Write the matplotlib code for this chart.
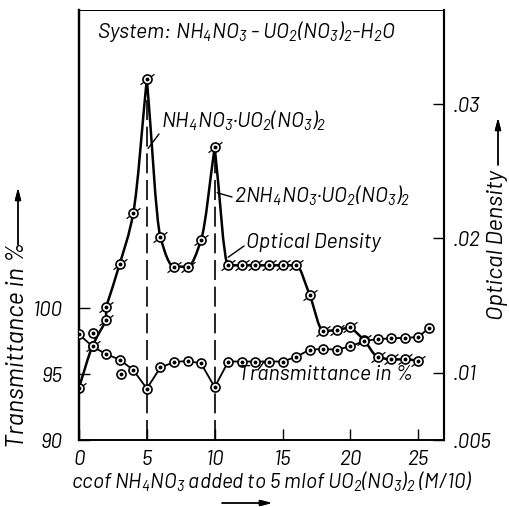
import numpy as np
import matplotlib
matplotlib.use("Agg")
import matplotlib.pyplot as plt
from matplotlib.path import Path
from matplotlib.patches import PathPatch
from matplotlib import font_manager

# ---------------------------------------------------------------------------
# data
# ---------------------------------------------------------------------------
# optical density (right axis); two readings at 2 cc
od_x = [0, 1, 2, 2, 3, 4, 5, 6, 7, 8, 9, 10, 11, 12, 13, 14, 15, 16,
        17, 18, 19, 20, 21, 22, 23, 24, 25]
od_y = [0.0089, 0.0120, 0.0139, 0.0149, 0.0181, 0.0219, 0.0319, 0.0201,
        0.0179, 0.0179, 0.0199, 0.0268, 0.0180, 0.0180, 0.0180, 0.0180,
        0.0180, 0.0180, 0.0158, 0.0131, 0.0132, 0.0134, 0.01245, 0.0112,
        0.0110, 0.0110, 0.0109]

# transmittance in % (left axis)
tr_x = [0, 1, 2, 3, 4, 5, 6, 7, 8, 9, 10, 11, 12, 13, 14, 15, 16, 17,
        18, 19, 20, 21, 22, 23, 24, 25, 25.8]
tr_y = [98.0, 97.1, 96.5, 96.1, 95.3, 93.9, 95.5, 95.9, 96.0, 95.8, 94.0,
        95.95, 95.95, 95.95, 95.95, 95.95, 96.3, 96.85, 96.9, 96.85, 97.1,
        97.5, 97.65, 97.7, 97.75, 97.8, 98.5]

# stray readings not joined by the line
stray_x = [1, 3.1]
stray_y = [98.1, 95.0]

# compounds marked by dashed lines
compound_x = [5, 10]

x_ticks = [0, 5, 10, 15, 20, 25]
tr_ticks = [90, 95, 100]
od_ticks = [0.005, 0.01, 0.02, 0.03]
od_tick_labels = ['.005', '.01', '.02', '.03']

# ---------------------------------------------------------------------------
# fonts: narrow italic lettering
# ---------------------------------------------------------------------------
installed = {f.name for f in font_manager.fontManager.ttflist}
FONT = 'DejaVu Sans'
for name in ('Barlow', 'Barlow Semi Condensed', 'Roboto Condensed'):
    if name in installed:
        FONT = name
        break
plt.rcParams['font.family'] = [FONT, 'DejaVu Sans']
plt.rcParams['font.style'] = 'italic'
plt.rcParams['mathtext.fontset'] = 'custom'
plt.rcParams['mathtext.rm'] = FONT + ':italic'
plt.rcParams['mathtext.it'] = FONT + ':italic'
plt.rcParams['mathtext.bf'] = FONT + ':italic'

W, H = 509, 507
FS = 15.3      # labels inside the plot
TICK_FS = 15


def fx(px):
    return px / W


def fy(py):
    return 1 - py / H


def pchip_tangents(x, y):
    # monotone tangents, but a sharp point at local maxima
    n = len(x)
    h = np.diff(x)
    d = np.diff(y) / h
    left = np.zeros(n)
    right = np.zeros(n)
    left[0] = right[0] = d[0]
    left[-1] = right[-1] = d[-1]
    for k in range(1, n - 1):
        if y[k] > y[k - 1] and y[k] > y[k + 1]:
            left[k], right[k] = d[k - 1], d[k]
        elif d[k - 1] * d[k] > 0:
            w1 = 2 * h[k] + h[k - 1]
            w2 = h[k] + 2 * h[k - 1]
            left[k] = right[k] = (w1 + w2) / (w1 / d[k - 1] + w2 / d[k])
    return left, right


def curve_path(xs, ys):
    xs = np.asarray(xs, float)
    ys = np.asarray(ys, float)
    # split where two readings share one x
    cuts = [0] + [i + 1 for i in range(len(xs) - 1) if xs[i + 1] == xs[i]] + [len(xs)]
    verts, codes = [], []
    for a, b in zip(cuts[:-1], cuts[1:]):
        x, y = xs[a:b], ys[a:b]
        verts.append((x[0], y[0]))
        codes.append(Path.MOVETO if a == 0 else Path.LINETO)
        if len(x) < 2:
            continue
        ml, mr = pchip_tangents(x, y)
        for i in range(len(x) - 1):
            dx = x[i + 1] - x[i]
            verts += [(x[i] + dx / 3, y[i] + mr[i] * dx / 3),
                      (x[i + 1] - dx / 3, y[i + 1] - ml[i + 1] * dx / 3),
                      (x[i + 1], y[i + 1])]
            codes += [Path.CURVE4] * 3
    return Path(verts, codes)


fig = plt.figure(figsize=(W / 100, H / 100), dpi=100)
ax1 = fig.add_axes([fx(79), fy(440), fx(444) - fx(79), fy(10) - fy(440)])
ax2 = ax1.twinx()

ax1.set_xlim(0, 26.9)
ax1.set_ylim(90, 122.6)
ax2.set_ylim(0.005, 0.037)

# --- dashed lines at the two compounds ---
for cx in compound_x:
    top = max(v for xv, v in zip(od_x, od_y) if xv == cx)
    ax2.plot([cx, cx], [0.005, top], color='black', lw=1.2,
             linestyle=(0, (12, 4)), zorder=1)

# --- optical density curve ---
ax2.add_patch(PathPatch(curve_path(od_x, od_y), facecolor='none',
                        edgecolor='black', lw=1.8, zorder=2))
slash = Path([(-1, -0.75), (1, 0.75)], [Path.MOVETO, Path.LINETO])
ax2.plot(od_x, od_y, linestyle='none', marker=slash, markersize=10,
         markeredgecolor='black', markeredgewidth=0.9, zorder=3)
ax2.plot(od_x, od_y, linestyle='none', marker='o', markersize=6.5,
         markerfacecolor='white', markeredgecolor='black',
         markeredgewidth=1.2, zorder=4)
ax2.plot(od_x, od_y, linestyle='none', marker='o', markersize=1.8,
         color='black', zorder=5)

# --- transmittance ---
ax1.plot(tr_x, tr_y, color='black', lw=1.3, zorder=2)
for xs, ys in ((tr_x, tr_y), (stray_x, stray_y)):
    ax1.plot(xs, ys, linestyle='none', marker='o', markersize=6.5,
             markerfacecolor='white', markeredgecolor='black',
             markeredgewidth=1.2, zorder=4)
    ax1.plot(xs, ys, linestyle='none', marker='o', markersize=1.8,
             color='black', zorder=5)
ax1.set_zorder(ax2.get_zorder() + 1)
ax1.patch.set_visible(False)

# --- axes ---
ax1.set_xticks(x_ticks)
ax1.set_xticklabels([str(v) for v in x_ticks])
ax1.set_yticks(tr_ticks)
ax1.set_yticklabels([str(v) for v in tr_ticks])
ax2.set_yticks(od_ticks)
ax2.set_yticklabels(od_tick_labels)
ax1.tick_params(axis='x', direction='in', length=8, width=1, labelsize=TICK_FS, pad=7)
ax1.tick_params(axis='y', direction='in', length=8, width=1, labelsize=TICK_FS, pad=12)
ax2.tick_params(axis='y', direction='in', length=8, width=1, labelsize=TICK_FS, pad=6)
for ax in (ax1, ax2):
    ax.spines['left'].set_linewidth(1.6)
    ax.spines['right'].set_linewidth(1.5)
    ax.spines['bottom'].set_linewidth(1.2)
    ax.spines['top'].set_linewidth(0.7)

# --- texts ---
fig.text(fx(97), fy(38), 'System: NH$_4$NO$_3$ - UO$_2$(NO$_3$)$_2$-H$_2$O',
         fontsize=FS, va='baseline')
fig.text(fx(161), fy(128), 'NH$_4$NO$_3$·UO$_2$(NO$_3$)$_2$', fontsize=FS, va='baseline')
fig.text(fx(234), fy(203), '2NH$_4$NO$_3$·UO$_2$(NO$_3$)$_2$', fontsize=FS, va='baseline')
fig.text(fx(246), fy(248), 'Optical Density', fontsize=FS, va='baseline')
fig.text(fx(238), fy(380), 'Transmittance in %', fontsize=FS, va='baseline')

leaders = [((5.09, 0.0267), ax2, (159, 134)),
           ((10.18, 0.0234), ax2, (232, 197)),
           ((10.99, 0.0186), ax2, (244, 246)),
           ((13.64, 95.94), ax1, (258, 370))]
for xy, ax, end in leaders:
    ax.annotate('', xy=xy, xycoords='data', xytext=(fx(end[0]), fy(end[1])),
                textcoords='figure fraction',
                arrowprops=dict(arrowstyle='-', lw=1.0, color='black',
                                shrinkA=0, shrinkB=0))

fig.text(fx(272), fy(489), 'ccof NH$_4$NO$_3$ added to 5 mlof UO$_2$(NO$_3$)$_2$ (M/10)',
         fontsize=15, ha='center', va='baseline')
fig.text(fx(18), fy(345), 'Transmittance in %', fontsize=18, rotation=90,
         ha='center', va='center')
fig.text(fx(497), fy(245), 'Optical Density', fontsize=17, rotation=90,
         ha='center', va='center')

arrow = dict(arrowstyle='-|>,head_length=0.7,head_width=0.18', lw=1.0,
             color='black', shrinkA=0, shrinkB=0)
fig.add_artist(plt.annotate('', xy=(fx(272), fy(503)), xytext=(fx(222), fy(503)),
                            xycoords='figure fraction', arrowprops=arrow))
fig.add_artist(plt.annotate('', xy=(fx(18), fy(188)), xytext=(fx(18), fy(245)),
                            xycoords='figure fraction', arrowprops=arrow))
fig.add_artist(plt.annotate('', xy=(fx(498), fy(118)), xytext=(fx(498), fy(165)),
                            xycoords='figure fraction', arrowprops=arrow))

fig.savefig('out.png', dpi=100)
